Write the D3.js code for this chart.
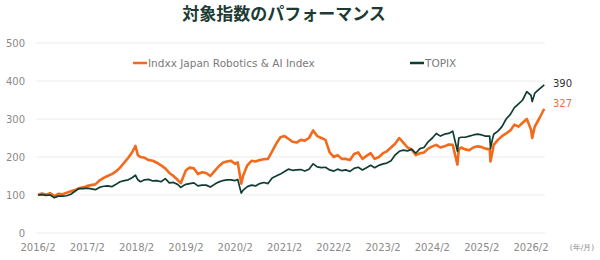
<!DOCTYPE html>
<html>
<head>
<meta charset="utf-8">
<script src="https://cdn.jsdelivr.net/npm/d3@7"></script>
<style>
  body { margin: 0; background: #fff; }
  text { font-family: "DejaVu Sans", Verdana, sans-serif; }
</style>
</head>
<body>
<div id="chart"></div>
<script>
// monthly readings (plus a few event days) off the reference chart
const dates = [
  '2016-02-01','2016-03-01','2016-04-01','2016-05-01','2016-06-01','2016-07-01','2016-08-01','2016-09-01','2016-10-01','2016-11-01','2016-12-01',
  '2017-01-01','2017-02-01','2017-03-01','2017-04-01','2017-05-01','2017-06-01','2017-07-01','2017-08-01','2017-09-01','2017-10-01','2017-11-01','2017-12-01',
  '2018-01-01','2018-01-23','2018-02-10','2018-03-01','2018-04-01','2018-05-01','2018-06-01','2018-07-01','2018-08-01','2018-09-01','2018-10-01','2018-11-01','2018-12-01','2018-12-25',
  '2019-01-15','2019-02-01','2019-03-01','2019-04-01','2019-05-01','2019-06-01','2019-07-01','2019-08-01','2019-09-01','2019-10-01','2019-11-01','2019-12-01',
  '2020-01-01','2020-02-01','2020-02-20','2020-03-17','2020-04-01','2020-05-01','2020-06-01','2020-07-01','2020-08-01','2020-09-01','2020-10-01','2020-11-01','2020-12-01',
  '2021-01-01','2021-02-01','2021-03-01','2021-04-01','2021-05-01','2021-06-01','2021-07-01','2021-08-01','2021-09-01','2021-10-01','2021-11-01','2021-12-01',
  '2022-01-01','2022-02-01','2022-03-01','2022-04-01','2022-05-01','2022-06-01','2022-07-01','2022-08-01','2022-09-01','2022-10-01','2022-11-01','2022-12-01',
  '2023-01-01','2023-02-01','2023-03-01','2023-04-01','2023-05-01','2023-06-01','2023-07-01','2023-08-01','2023-09-01','2023-10-01','2023-11-01','2023-12-01',
  '2024-01-01','2024-02-01','2024-03-01','2024-04-01','2024-05-01','2024-06-01','2024-07-01','2024-08-05','2024-08-15','2024-09-01','2024-10-01','2024-11-01','2024-12-01',
  '2025-01-01','2025-02-01','2025-03-01','2025-04-01','2025-04-07','2025-04-20','2025-05-01','2025-06-01','2025-07-01','2025-08-01','2025-09-01','2025-10-01','2025-11-01','2025-12-01',
  '2026-01-01','2026-02-01','2026-02-10','2026-03-01','2026-04-01','2026-05-10'
]

const robotics = [
  100,104,101,105,97,103,102,106,110,113,118,
  120,124,126,128,138,145,150,155,162,172,185,198,
  214,229,205,200,198,192,190,185,178,170,158,150,140,131,
  150,165,172,170,155,160,158,150,163,175,185,188,
  190,182,186,130,152,178,190,188,192,194,195,215,235,
  252,255,248,240,238,245,243,250,270,255,250,245,
  212,200,205,195,195,192,208,212,195,203,210,195,
  200,210,215,225,235,250,238,225,220,205,210,212,
  222,228,232,225,228,233,232,180,220,225,220,218,225,
  228,226,222,220,188,212,232,245,255,262,270,285,280,290,
  300,272,250,280,300,327
]

const topix = [
  100,101,99,100,93,97,97,98,102,110,117,
  117,118,116,114,120,123,124,122,128,135,138,140,
  146,152,140,135,140,141,137,138,135,143,132,133,128,120,
  125,128,130,132,124,126,126,121,128,134,138,140,
  140,138,141,105,113,122,126,124,130,133,130,145,150,
  155,162,168,165,166,167,163,168,182,174,172,173,
  166,163,168,164,166,162,170,173,166,172,178,172,
  178,182,184,190,205,215,218,216,220,210,222,225,
  240,250,262,255,260,262,268,215,250,252,252,255,258,
  260,258,255,255,222,245,260,268,280,300,312,330,340,350,
  372,362,346,368,378,390
]

const xTicks = ['2016/2','2017/2','2018/2','2019/2','2020/2','2021/2','2022/2','2023/2','2024/2','2025/2','2026/2']
const yTicks = [0,100,200,300,400,500]
const seriesNames = ['Indxx Japan Robotics & AI Index','TOPIX']
const colors = ['#f26b1d','#103d33']

const width = 600, height = 260
const parse = d3.timeParse('%Y-%m-%d')
const parseTick = d3.timeParse('%Y/%m')

const x = d3.scaleTime()
  .domain([parseTick('2016/2'), parseTick('2026/2')])
  .range([38, 531])
const y = d3.scaleLinear().domain([0, 500]).range([233, 43])

const svg = d3.select('#chart').append('svg')
  .attr('width', width)
  .attr('height', height)

// title
svg.append('text')
  .attr('x', 284).attr('y', 20)
  .attr('text-anchor', 'middle')
  .style('font-family', '"Noto Sans CJK JP", sans-serif')
  .style('font-weight', 'bold')
  .style('font-size', '17px')
  .attr('fill', '#1d3b34')
  .text('対象指数のパフォーマンス')

// grid + y labels
const yAxis = svg.append('g')
yAxis.selectAll('line').data(yTicks).join('line')
  .attr('x1', 36).attr('x2', 545)
  .attr('y1', d => y(d)).attr('y2', d => y(d))
  .attr('stroke', '#ececec')
yAxis.selectAll('text').data(yTicks).join('text')
  .attr('x', 25).attr('y', d => y(d) + 4)
  .attr('text-anchor', 'end')
  .attr('fill', '#8a8a8a')
  .style('font-size', '10px')
  .text(d => d)

// x labels
svg.append('g').selectAll('text').data(xTicks).join('text')
  .attr('x', d => x(parseTick(d)))
  .attr('y', 251)
  .attr('text-anchor', 'middle')
  .attr('fill', '#8a8a8a')
  .style('font-size', '10px')
  .text(d => d)

svg.append('text')
  .attr('x', 582).attr('y', 250)
  .attr('text-anchor', 'middle')
  .attr('fill', '#8a8a8a')
  .style('font-size', '7.5px')
  .text('(年/月)')

// lines
const line = d3.line()
  .x(d => x(d.date))
  .y(d => y(d.v))

const series = [robotics, topix].map(vals => dates.map((d, i) => ({date: parse(d), v: vals[i]})))

svg.append('path')
  .datum(series[0])
  .attr('d', line)
  .attr('fill', 'none')
  .attr('stroke', colors[0])
  .attr('stroke-width', 2.6)
  .attr('stroke-linejoin', 'round')

svg.append('path')
  .datum(series[1])
  .attr('d', line)
  .attr('fill', 'none')
  .attr('stroke', colors[1])
  .attr('stroke-width', 1.7)
  .attr('stroke-linejoin', 'round')

// end labels
svg.append('text')
  .attr('x', 553).attr('y', y(topix[topix.length - 1]) + 2)
  .attr('fill', '#333')
  .style('font-size', '10px')
  .text(topix[topix.length - 1])
svg.append('text')
  .attr('x', 553).attr('y', y(robotics[robotics.length - 1]) - 2)
  .attr('fill', '#f07030')
  .style('font-size', '10px')
  .text(robotics[robotics.length - 1])

// legend
const legendX = [133, 410]
const legend = svg.append('g')
legend.selectAll('line').data(seriesNames).join('line')
  .attr('x1', (d, i) => legendX[i]).attr('x2', (d, i) => legendX[i] + 14)
  .attr('y1', 63).attr('y2', 63)
  .attr('stroke', (d, i) => colors[i])
  .attr('stroke-width', 2.5)
legend.selectAll('text').data(seriesNames).join('text')
  .attr('x', (d, i) => legendX[i] + 15)
  .attr('y', 67)
  .attr('fill', '#7a7a7a')
  .style('font-size', '10.5px')
  .text(d => d)
</script>
</body>
</html>
